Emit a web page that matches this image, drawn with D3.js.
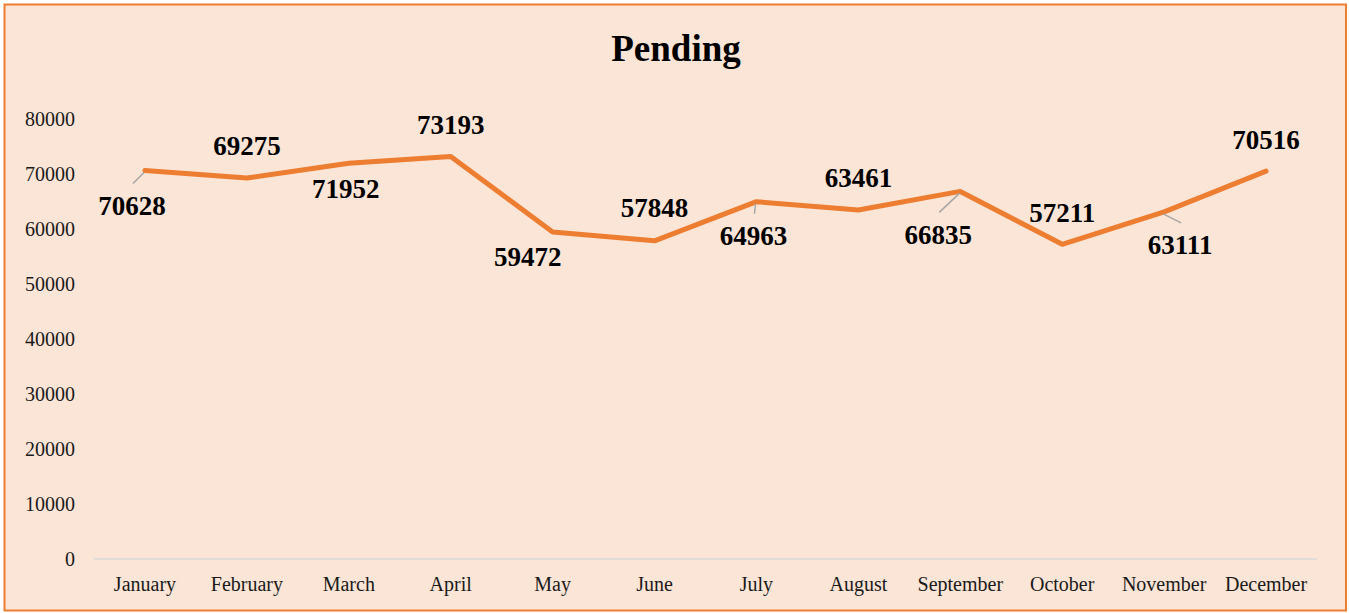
<!DOCTYPE html>
<html>
<head>
<meta charset="utf-8">
<script src="https://cdn.jsdelivr.net/npm/d3@7"></script>
<style>
  body { margin: 0; background: #ffffff; }
  svg { display: block; }
</style>
</head>
<body>
<div id="chart"></div>
<script>
// data
var months = ["January", "February", "March", "April", "May", "June",
  "July", "August", "September", "October", "November", "December"];
var pending = [70628, 69275, 71952, 73193, 59472, 57848,
  64963, 63461, 66835, 57211, 63111, 70516];
var yTicks = [0, 10000, 20000, 30000, 40000, 50000, 60000, 70000, 80000];

// label placement (offset from point, like Excel's dragged labels)
var labelOffsets = [[-13, 35], [0, -32], [-3, 25], [0, -32], [-25, 25], [0, -33],
  [-3, 34], [0, -32], [-22, 43], [0, -32], [16, 33], [0, -32]];
var hasLeader = [true, false, false, false, false, false,
  true, false, true, false, true, false];

var W = 1349, H = 613;
var margin = {top: 119, right: 32, bottom: 54, left: 94},
    width = 1317 - margin.left,
    height = 559 - margin.top;

var svg = d3.select("#chart")
  .append("svg")
    .attr("width", W)
    .attr("height", H);

// background + border
svg.append("rect")
  .attr("x", 4.5).attr("y", 4.5)
  .attr("width", 1341.5).attr("height", 606)
  .attr("fill", "#fbe5d6")
  .attr("stroke", "#ed7d31")
  .attr("stroke-width", 2);

// title
svg.append("text")
  .attr("x", 676).attr("y", 61)
  .attr("text-anchor", "middle")
  .style("font-family", "'Liberation Serif', 'Times New Roman', serif")
  .style("font-weight", "bold")
  .style("font-size", "37px")
  .text("Pending");

var g = svg.append("g")
  .attr("transform", "translate(" + margin.left + "," + margin.top + ")");

// scales
var x = d3.scaleBand()
  .domain(months)
  .range([0, width]);

var y = d3.scaleLinear()
  .domain([0, 80000])
  .range([height, 0]);

// Y axis labels
g.selectAll(".ylab")
  .data(yTicks)
  .enter()
  .append("text")
    .attr("class", "ylab")
    .attr("x", -19)
    .attr("y", function(d) { return y(d) + 7; })
    .attr("text-anchor", "end")
    .style("font-family", "'Liberation Serif', 'Times New Roman', serif")
    .style("font-size", "20px")
    .style("fill", "#1a1a1a")
    .text(function(d) { return d; });

// X axis
g.append("line")
  .attr("x1", 0).attr("x2", width)
  .attr("y1", height).attr("y2", height)
  .attr("stroke", "#d9d9d9")
  .attr("stroke-width", 1.5);

g.selectAll(".xlab")
  .data(months)
  .enter()
  .append("text")
    .attr("class", "xlab")
    .attr("x", function(d) { return x(d) + x.bandwidth() / 2; })
    .attr("y", height + 32)
    .attr("text-anchor", "middle")
    .style("font-family", "'Liberation Serif', 'Times New Roman', serif")
    .style("font-size", "20px")
    .style("fill", "#1a1a1a")
    .text(function(d) { return d; });

var pts = months.map(function(m, i) {
  return {m: m, v: pending[i], i: i,
          px: x(m) + x.bandwidth() / 2, py: y(pending[i])};
});

// line
var line = d3.line()
  .x(function(d) { return d.px; })
  .y(function(d) { return d.py; });

g.append("path")
  .datum(pts)
  .attr("d", line)
  .attr("fill", "none")
  .attr("stroke", "#ed7d31")
  .attr("stroke-width", 5)
  .attr("stroke-linejoin", "round")
  .attr("stroke-linecap", "round");

// leader lines
g.selectAll(".leader")
  .data(pts.filter(function(d) { return hasLeader[d.i]; }))
  .enter()
  .append("line")
    .attr("x1", function(d) { return d.px - 1; })
    .attr("y1", function(d) { return d.py + 2; })
    .attr("x2", function(d) { return d.px + labelOffsets[d.i][0] + 1; })
    .attr("y2", function(d) { return d.py + labelOffsets[d.i][1] - 22; })
    .attr("stroke", "#a6a6a6")
    .attr("stroke-width", 1.5);

// data labels
g.selectAll(".dlab")
  .data(pts)
  .enter()
  .append("text")
    .attr("class", "dlab")
    .attr("x", function(d) { return d.px + labelOffsets[d.i][0]; })
    .attr("y", function(d) { return d.py + labelOffsets[d.i][1]; })
    .attr("dy", "0.35em")
    .attr("text-anchor", "middle")
    .style("font-family", "'Liberation Serif', 'Times New Roman', serif")
    .style("font-weight", "bold")
    .style("font-size", "27px")
    .style("fill", "#000")
    .text(function(d) { return d.v; });
</script>
</body>
</html>
